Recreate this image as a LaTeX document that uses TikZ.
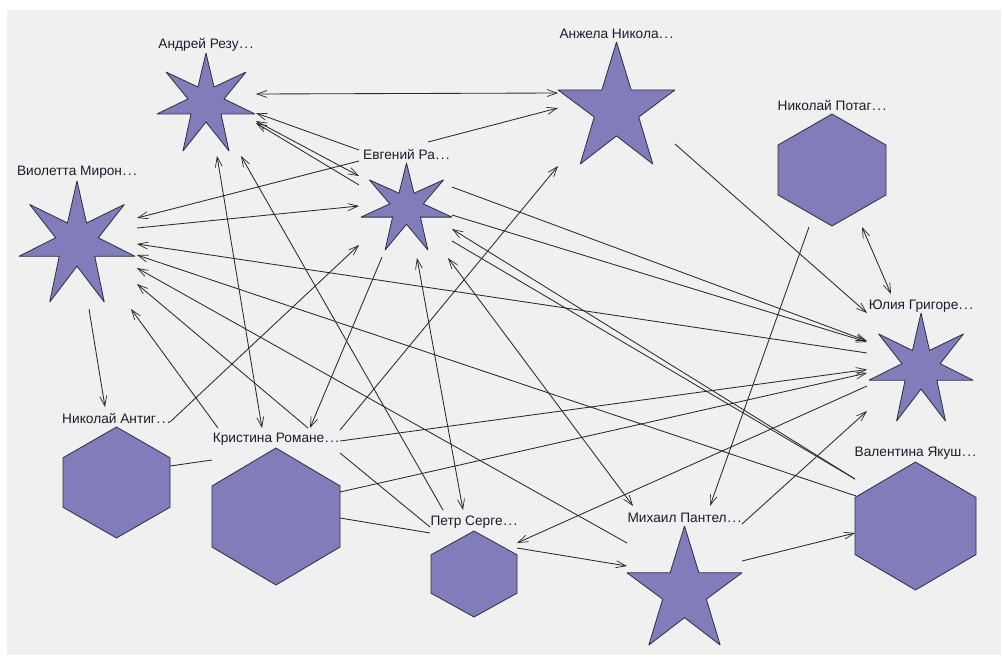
\documentclass[tikz,border=0pt]{standalone}
\usepackage{fontspec}
\setmainfont{Liberation Sans}
\usetikzlibrary{arrows.meta}
\definecolor{bgc}{HTML}{F0F0F0}
\definecolor{shapefill}{HTML}{807DBA}
\definecolor{shapeline}{HTML}{2E2E40}
\definecolor{edgec}{HTML}{2A2A2A}
\definecolor{txt}{HTML}{1C1C2C}
\tikzset{
  box/.style={draw=none,inner sep=0pt,outer sep=0pt},
  shp/.style={draw=shapeline,fill=shapefill,line width=0.8pt,line join=miter,miter limit=2},
  lbl/.style={inner sep=0pt,text=txt,font=\fontsize{13.7}{16}\selectfont},
  edge/.style={draw=edgec,line width=0.85pt},
  toB/.style={edge,-{Straight Barb[length=10pt,width=7pt,line width=0.7pt]}},
  both/.style={edge,{Straight Barb[length=10pt,width=7pt,line width=0.7pt]}-{Straight Barb[length=10pt,width=7pt,line width=0.7pt]}}
}
\newcommand\truncdots{\kern.6pt.\kern1.4pt.\kern1.4pt.}
\newcommand\hexa{(.5,0)--(1,.277)--(1,.723)--(.5,1)--(0,.723)--(0,.277)--cycle}
\newcommand\starS{(.5,0)--(.582,.347)--(.908,.194)--(.684,.469)--(1,.622)--(.653,.622)--(.735,1)--(.5,.704)--(.265,1)--(.347,.622)--(0,.622)--(.316,.469)--(.092,.194)--(.418,.347)--cycle}
\newcommand\starF{(.5,0)--(.625,.393)--(1,.393)--(.69,.615)--(.81,1)--(.5,.77)--(.19,1)--(.31,.615)--(0,.393)--(.375,.393)--cycle}
% name, x0, box top, x1, y1, shape top, shape, label, label y
\newcommand\person[9]{%
  \pgfmathsetmacro\cx{(#2+#4)/2}%
  \pgfmathsetmacro\cy{(#3+#5)/2}%
  \pgfmathsetmacro\bw{#4-#2}%
  \pgfmathsetmacro\bh{#5-#3}%
  \pgfmathsetmacro\sh{#5-#6}%
  \node[box,minimum width=\bw pt,minimum height=\bh pt] (#1) at (\cx,\cy) {};
  \draw[shp,shift={(#2,#6)},x=\bw pt,y=-\sh pt] #7;
  \node[lbl] (#1-l) at (\cx,#9) {#8\truncdots};
}
\begin{document}
\begin{tikzpicture}[x=1pt,y=-1pt]
\useasboundingbox (0,0) rectangle (1003,656);
\fill[bgc] (7,10) rectangle (1001,655);
\person{and}{157}{37}{255}{151}{53}{\starS}{Андрей Резу}{44.5}
\person{anz}{558}{25}{675}{164}{42}{\starF}{Анжела Никола}{33.5}
\person{evg}{361}{144}{452}{250}{163}{\starS}{Евгений Ра}{154}
\person{vio}{19}{163}{135}{302}{181}{\starS}{Виолетта Мирон}{172.5}
\person{nip}{778}{97}{886}{226}{114}{\hexa}{Николай Потаг}{105.5}
\person{yul}{869}{297}{973}{421}{313}{\starS}{Юлия Григоре}{306.5}
\person{nia}{63}{410}{170}{538}{427}{\hexa}{Николай Антиг}{418.5}
\person{kri}{212}{431}{340}{585}{448}{\hexa}{Кристина Романе}{439.5}
\person{pet}{431}{514}{517}{617}{531}{\hexa}{Петр Серге}{522.5}
\person{mih}{627}{508}{742}{645}{526}{\starF}{Михаил Пантел}{517.5}
\person{val}{855}{445}{976}{590}{462}{\hexa}{Валентина Якуш}{453.5}

\draw[both] ([shift={(1,0)}]and.east) -- ([shift={(0,-1.5)}]anz.west);
\draw[toB] ([shift={(21.5,-2)}]evg.north) -- ([shift={(0,13.5)}]anz.west);
\draw[toB] ([shift={(-2,-47)}]evg.west) -- ([shift={(1,19)}]and.east);
\draw[both] ([shift={(1,27)}]and.east) -- ([shift={(-2,-21)}]evg.west);
\draw[toB] ([shift={(-2,-12)}]evg.west) -- ([shift={(1,29)}]and.east);
\draw[toB] ([shift={(-2,-36)}]evg.west) -- ([shift={(2,-14.5)}]vio.east);
\draw[toB] ([shift={(2,-4.5)}]vio.east) -- ([shift={(-2,9)}]evg.west);
\draw[toB] ([shift={(-2,-6)}]yul.west) -- ([shift={(2,11.5)}]vio.east);
\draw[toB] ([shift={(1,-21.5)}]val.west) -- ([shift={(2,22.5)}]vio.east);
\draw[toB] ([shift={(0,-33.5)}]mih.west) -- ([shift={(2,35.5)}]vio.east);
\draw[toB] ([shift={(32,-3)}]kri.north) -- ([shift={(2,51.5)}]vio.east);
\draw[toB] ([shift={(-58,-3)}]kri.north) -- ([shift={(54,7)}]vio.south);
\draw[toB] ([shift={(12,7)}]vio.south) -- ([shift={(-11.5,-3)}]nia.north);
\draw[toB] ([shift={(0,-52)}]nia.east) -- ([shift={(-2,48)}]evg.west);
\draw[edge] ([shift={(0,-8)}]nia.east) -- ([shift={(0,-48)}]kri.west);
\draw[both] ([shift={(-14,-3)}]kri.north) -- ([shift={(11,5)}]and.south);
\draw[toB] ([shift={(-31,-4)}]pet.north) -- ([shift={(35,5)}]and.south);
\draw[toB] ([shift={(-24.5,7)}]evg.south) -- ([shift={(34,-3)}]kri.north);
\draw[both] ([shift={(-11,-4)}]pet.north) -- ([shift={(10.5,8)}]evg.south);
\draw[toB] ([shift={(64,-1)}]kri.north) -- ([shift={(-58.5,2)}]anz.south);
\draw[edge] ([shift={(0,-55)}]kri.east) -- ([shift={(-1,-38.5)}]pet.west);
\draw[edge] ([shift={(0,10)}]kri.east) -- ([shift={(-1,-32.5)}]pet.west);
\draw[toB] ([shift={(0,-67)}]kri.east) -- ([shift={(-2,10.5)}]yul.west);
\draw[toB] ([shift={(0,-16)}]kri.east) -- ([shift={(-2,14)}]yul.west);
\draw[toB] ([shift={(-2,27)}]yul.west) -- ([shift={(0,-22.5)}]pet.east);
\draw[toB] ([shift={(0,-17.5)}]pet.east) -- ([shift={(0,-10.5)}]mih.west);
\draw[toB] ([shift={(0,-52.5)}]mih.east) -- ([shift={(-2,52)}]yul.west);
\draw[toB] ([shift={(0,-15.5)}]mih.east) -- ([shift={(0,15.5)}]val.west);
\draw[toB] ([shift={(-23,1)}]nip.south) -- ([shift={(25.5,-2)}]mih.north);
\draw[toB] ([shift={(0,49.5)}]anz.east) -- ([shift={(-2,-46)}]yul.west);
\draw[both] ([shift={(30,1)}]nip.south) -- ([shift={(-30,-3)}]yul.north);
\draw[toB] ([shift={(0,-10)}]evg.east) -- ([shift={(-2,-18)}]yul.west);
\draw[toB] ([shift={(0,18)}]evg.east) -- ([shift={(-2,-17)}]yul.west);
\draw[toB] ([shift={(0,-38.5)}]val.west) -- ([shift={(0,32)}]evg.east);
\draw[edge] ([shift={(0,44)}]evg.east) -- ([shift={(0,-38.5)}]val.west);
\draw[both] ([shift={(-51.5,-2)}]mih.north) -- ([shift={(41.5,8)}]evg.south);
\end{tikzpicture}
\end{document}
